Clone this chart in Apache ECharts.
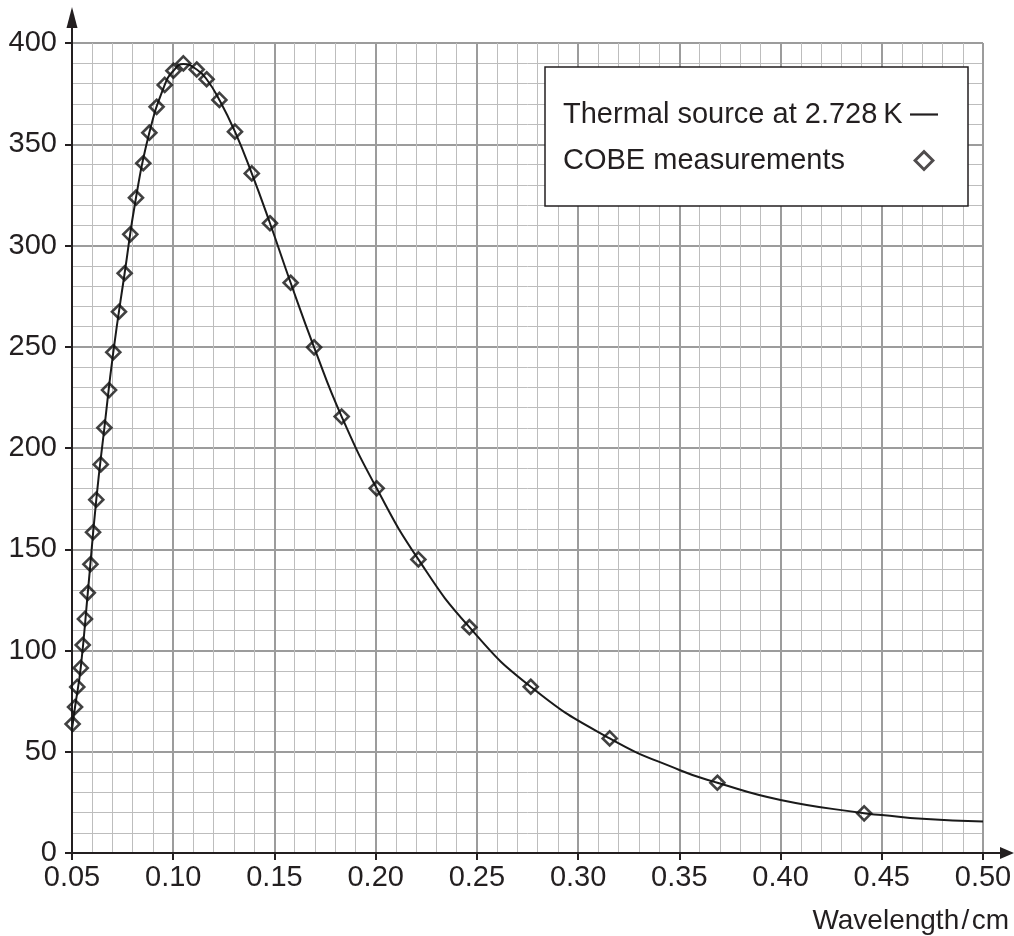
<!DOCTYPE html>
<html>
<head>
<meta charset="utf-8">
<script src="https://cdn.jsdelivr.net/npm/echarts@6/dist/echarts.min.js"></script>
<style>
  html, body { margin: 0; padding: 0; background: #fff; }
  #chart { width: 1014px; height: 936px; }
</style>
</head>
<body>
<div id="chart"></div>
<script>
// ---- Data ----
const cobeX = [0.0503,0.0515,0.0526,0.0543,0.0553,0.0564,0.0578,0.0591,0.0604,0.0620,
               0.0642,0.0660,0.0683,0.0704,0.0732,0.0760,0.0788,0.0816,0.0852,0.0882,
               0.0918,0.0958,0.1001,0.1050,0.1116,0.1165,0.1228,0.1305,0.1388,0.1478,
               0.1580,0.1696,0.1832,0.2005,0.2211,0.2463,0.2766,0.3156,0.3688,0.4413];
const cobeY = [63.7,72.1,82.0,91.4,102.7,115.6,128.5,142.6,158.4,174.5,
               191.9,210.0,228.6,247.3,267.3,286.3,305.5,323.6,340.6,355.7,
               368.5,379.3,386.3,389.9,386.9,382.1,371.9,356.2,335.6,311.0,
               281.6,249.7,215.5,180.1,145.0,111.5,82.1,56.6,34.7,19.6];

const curveX = [0.0500,0.0515,0.0543,0.0578,0.0620,0.0660,0.0704,0.0760,0.0816,0.0882,
                0.0958,0.1001,0.1050,0.1116,0.1165,0.1228,0.1305,0.1388,0.1478,0.1580,
                0.1696,0.1832,0.2005,0.2211,0.2463,0.2766,0.3156,0.3500,0.3688,0.4000,
                0.4413,0.4500,0.4700,0.5000];
const curveY = [61.0,72.1,91.4,128.5,174.5,210.0,247.3,286.3,323.6,355.7,
                379.3,386.3,389.6,386.9,382.1,371.9,356.2,335.6,311.0,281.6,
                249.7,215.5,180.1,145.0,111.5,82.1,56.6,41.0,34.7,26.2,
                19.6,18.8,16.9,15.5];

const xTicks = ['0.05','0.10','0.15','0.20','0.25','0.30','0.35','0.40','0.45','0.50'];
const yTicks = [0,50,100,150,200,250,300,350,400];

const curveName = 'Thermal source at 2.728\u2009K';
const cobeName = 'COBE measurements';
const xTitle = 'Wavelength\u200A/\u200Acm';

// ---- Chart ----
const ink = '#231f20';
const FONT = 'Liberation Sans, Arial, Helvetica, sans-serif';
const FS = 29;
const chart = echarts.init(document.getElementById('chart'), null, { renderer: 'canvas' });

const axisCommon = {
  type: 'value',
  axisLine: { show: true, lineStyle: { color: ink, width: 2 } },
  axisTick: { show: true, inside: false, length: 7, lineStyle: { color: ink, width: 2 } },
  splitLine: { show: true, lineStyle: { color: '#9c9c9c', width: 2 } },
  minorTick: { show: false, splitNumber: 5 },
  minorSplitLine: { show: true, lineStyle: { color: '#bdbdbd', width: 1 } },
  axisLabel: { color: ink, fontSize: FS, fontFamily: FONT }
};

const option = {
  animation: false,
  backgroundColor: '#fff',
  textStyle: { fontFamily: FONT },
  grid: { left: 72, right: 31, top: 43, bottom: 83, containLabel: false, outerBoundsMode: 'none' },
  title: {
    text: xTitle, right: 0, top: 902,
    textStyle: { fontSize: 28, fontWeight: 'normal', color: ink, fontFamily: FONT }
  },
  xAxis: Object.assign({}, axisCommon, {
    min: 0.05, max: 0.50, interval: 0.05,
    axisLabel: Object.assign({}, axisCommon.axisLabel, {
      margin: 10,
      formatter: function (v) {
        const i = Math.round((v - 0.05) / 0.05);
        return xTicks[i] !== undefined ? xTicks[i] : v.toFixed(2);
      }
    })
  }),
  yAxis: Object.assign({}, axisCommon, {
    min: yTicks[0], max: yTicks[yTicks.length - 1], interval: 50,
    axisLabel: Object.assign({}, axisCommon.axisLabel, { margin: 15 })
  }),
  legend: {
    orient: 'vertical',
    left: 545, top: 67,
    padding: [33, 30, 31, 18],
    itemGap: 17,
    itemWidth: 28, itemHeight: 22,
    align: 'right',
    selectedMode: false,
    backgroundColor: '#fff',
    borderColor: ink, borderWidth: 1.5, borderRadius: 0,
    data: [
      { name: curveName, icon: 'path://M0,0L28,0L28,2.2L0,2.2Z',
        itemStyle: { color: ink, borderWidth: 0 } },
      { name: cobeName, icon: 'path://M8,0L16,8L8,16L0,8ZM8,3L3,8L8,13L13,8Z',
        itemStyle: { color: ink, borderWidth: 0 } }
    ],
    formatter: '{a|{name}}',
    textStyle: {
      color: ink, fontSize: FS, fontFamily: FONT,
      rich: { a: { width: 342, align: 'left', fontSize: FS, lineHeight: 30, color: ink, fontFamily: FONT } }
    }
  },
  series: [
    {
      name: curveName,
      type: 'line',
      data: curveX.map((x, i) => [x, curveY[i]]),
      smooth: 0.5,
      symbol: 'none',
      lineStyle: { color: '#1a1a1a', width: 2 },
      itemStyle: { color: '#1a1a1a' },
      z: 3
    },
    {
      name: cobeName,
      type: 'scatter',
      data: cobeX.map((x, i) => [x, cobeY[i]]),
      symbol: 'diamond',
      symbolSize: 14,
      itemStyle: { color: 'rgba(255,255,255,0)', borderColor: '#111', borderWidth: 2.6 },
      z: 4
    }
  ]
};

chart.setOption(option);

// Axis arrows (decoration anchored to the axis ends computed by the library)
const origin = chart.convertToPixel({ gridIndex: 0 }, [0.05, 0]);
const yEnd = chart.convertToPixel({ gridIndex: 0 }, [0.05, 400]);
const xEnd = chart.convertToPixel({ gridIndex: 0 }, [0.50, 0]);
const ax = origin[0], ay = origin[1];
chart.setOption({
  graphic: [
    { type: 'line', z: 10, shape: { x1: ax, y1: yEnd[1], x2: ax, y2: yEnd[1] - 18 },
      style: { stroke: ink, lineWidth: 2 } },
    { type: 'polygon', z: 10, shape: { points: [[ax - 5.5, yEnd[1] - 15], [ax + 5.5, yEnd[1] - 15], [ax, yEnd[1] - 36]] },
      style: { fill: ink } },
    { type: 'line', z: 10, shape: { x1: xEnd[0], y1: ay, x2: xEnd[0] + 20, y2: ay },
      style: { stroke: ink, lineWidth: 2 } },
    { type: 'polygon', z: 10, shape: { points: [[xEnd[0] + 17, ay - 6], [xEnd[0] + 17, ay + 6], [xEnd[0] + 31, ay]] },
      style: { fill: ink } }
  ]
});
</script>
</body>
</html>
